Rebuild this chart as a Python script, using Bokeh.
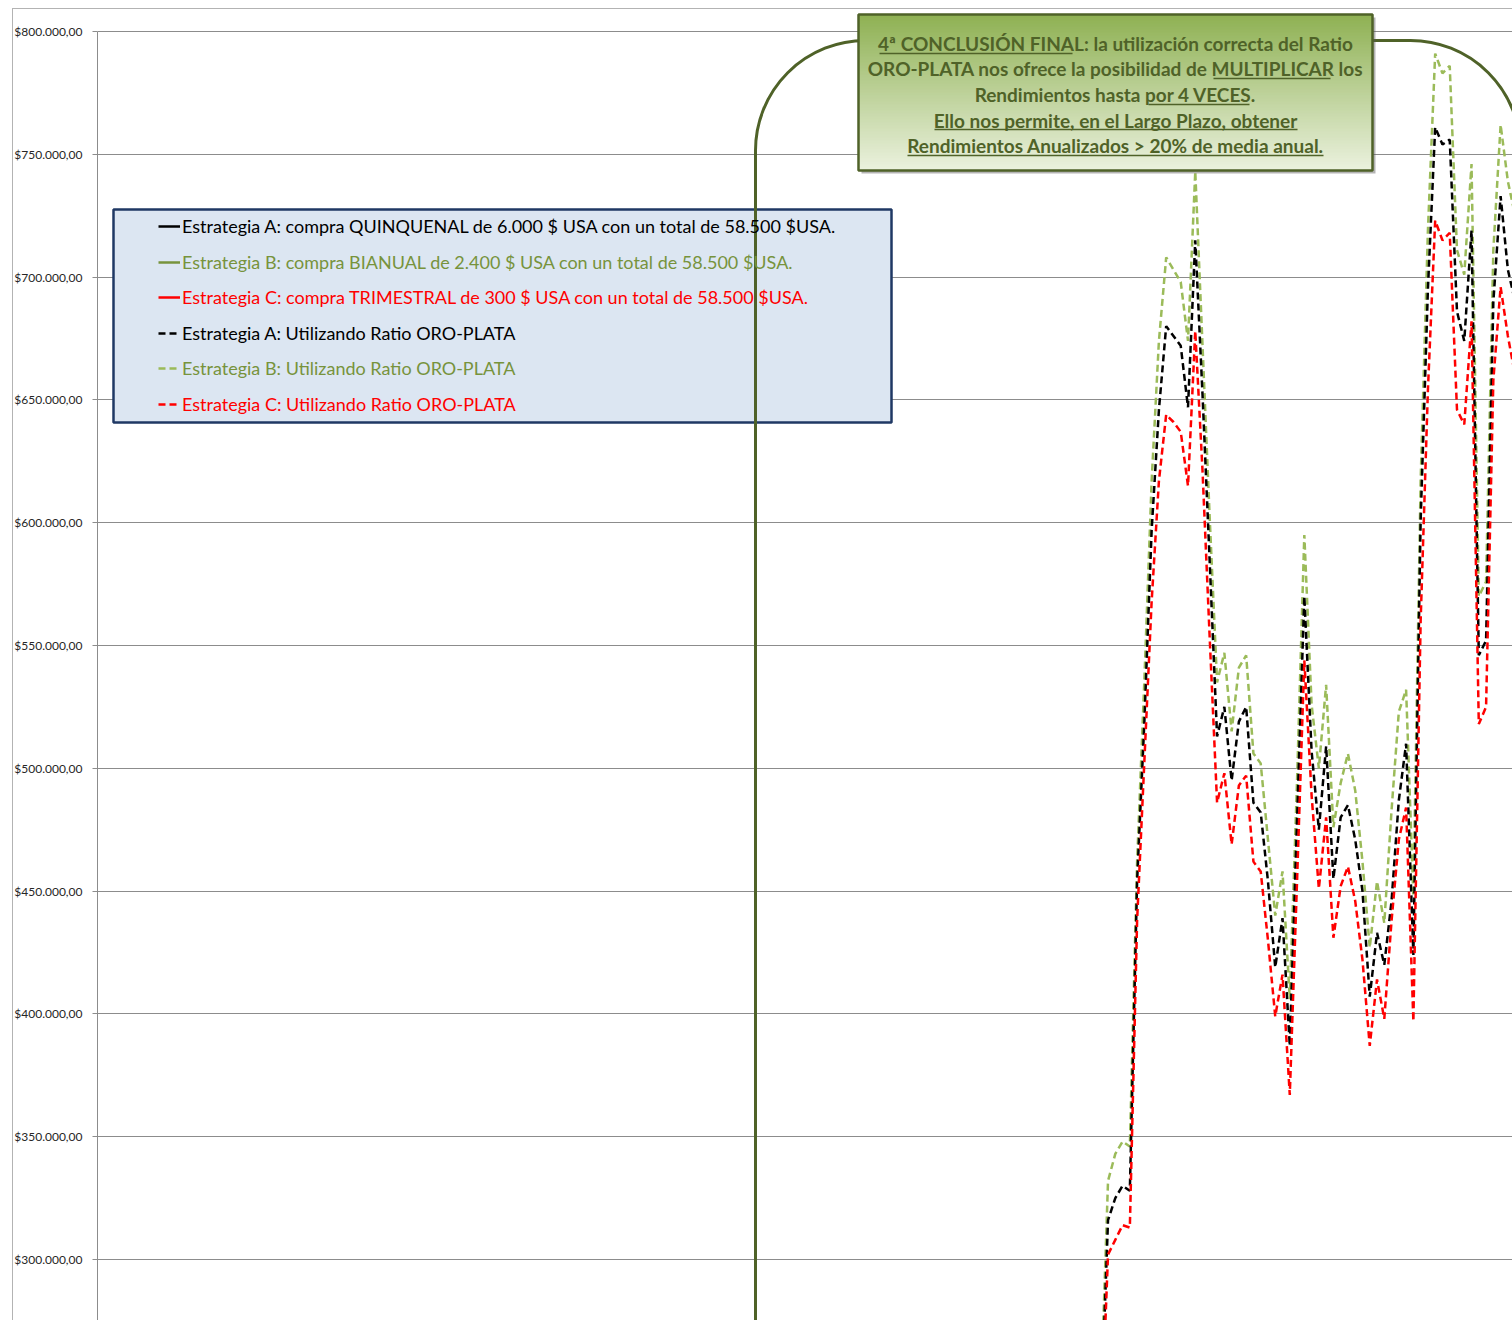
import numpy as np
from bokeh.plotting import figure
from bokeh.models import (Range1d, FixedTicker, CustomJSTickFormatter, Legend, LegendItem,
                          BoxAnnotation, Label, InlineStyleSheet)
from bokeh.embed import file_html
from bokeh.resources import INLINE

# ---------------- data (period index = quarter number on the category axis) ----------------
periods = list(range(139, 197))

estrategia_a_ratio = [234000, 316000, 325000, 330000, 328000, 454000, 519000, 597000, 646000, 680000,
                      676000, 672000, 647000, 715000, 652000, 583000, 513000, 525000, 495000, 519000,
                      525000, 486000, 482000, 454000, 419000, 439000, 387000, 479000, 570000, 507000,
                      475000, 509000, 455000, 480000, 485000, 471000, 450000, 407000, 433000, 420000,
                      446000, 487000, 510000, 424000, 601000, 695000, 761000, 754000, 756000, 686000,
                      674000, 719000, 546000, 552000, 690000, 733000, 703000, 690000]
estrategia_b_ratio = [243000, 332000, 343000, 348000, 346000, 462000, 536000, 617000, 674000, 708000,
                      703000, 698000, 674000, 743000, 672000, 601000, 535000, 547000, 515000, 541000,
                      546000, 506000, 502000, 471000, 440000, 458000, 406000, 495000, 595000, 526000,
                      500000, 534000, 476000, 494000, 506000, 491000, 462000, 427000, 454000, 437000,
                      483000, 523000, 532000, 448000, 617000, 719000, 791000, 783000, 786000, 711000,
                      701000, 746000, 570000, 576000, 711000, 762000, 739000, 725000]
estrategia_c_ratio = [226000, 302000, 308000, 314000, 313000, 438000, 503000, 568000, 617000, 644000,
                      641000, 637000, 615000, 678000, 621000, 552000, 486000, 498000, 469000, 493000,
                      497000, 462000, 458000, 430000, 399000, 416000, 367000, 454000, 544000, 489000,
                      451000, 480000, 431000, 452000, 460000, 446000, 422000, 387000, 414000, 398000,
                      438000, 471000, 484000, 397000, 560000, 654000, 723000, 715000, 718000, 646000,
                      640000, 682000, 518000, 525000, 658000, 696000, 676000, 660000]

# the plain purchase strategies lie below the visible part of the axis in this view (no visible values)
periods_plain = [np.nan]
estrategia_a = [np.nan]
estrategia_b = [np.nan]
estrategia_c = [np.nan]

y_ticks = [300000, 350000, 400000, 450000, 500000, 550000, 600000, 650000, 700000, 750000, 800000]
Y_AXIS_TOP = 800000

legend_labels = [
    "Estrategia A: compra QUINQUENAL de 6.000 $ USA con un total de 58.500 $USA.",
    "Estrategia B: compra BIANUAL de 2.400 $ USA con un total de 58.500 $USA.",
    "Estrategia C: compra TRIMESTRAL de 300 $ USA con un total de 58.500 $USA.",
    "Estrategia A: Utilizando Ratio ORO-PLATA",
    "Estrategia B: Utilizando Ratio ORO-PLATA",
    "Estrategia C: Utilizando Ratio ORO-PLATA",
]

note_lines = [
    "4ª CONCLUSIÓN FINAL: la utilización correcta del Ratio",
    "ORO-PLATA nos ofrece la posibilidad de MULTIPLICAR los",
    "Rendimientos hasta por 4 VECES.",
    "Ello nos permite, en el Largo Plazo, obtener",
    "Rendimientos Anualizados > 20% de media anual.",
]

# ---------------- layout ----------------
W, H = 1512, 1320
BL, BT = 97, 8
AXIS_TOP_PX = 31            # page y of the $800.000,00 gridline
FW, FH = W - BL, H - BT
PX_PER_PERIOD = 7.27
VAL_PER_PX = 407.17
Y_TOP = Y_AXIS_TOP + (AXIS_TOP_PX - BT) * VAL_PER_PX
Y_BOT = Y_TOP - FH * VAL_PER_PX
X_START = 1
X_END = X_START + FW / PX_PER_PERIOD

PAGE_FRAME_LEFT = BL
PAGE_FRAME_BOTTOM = H


def sx(X):
    return X - PAGE_FRAME_LEFT


def sy(Y):
    return PAGE_FRAME_BOTTOM - Y


SCREEN = dict(left_units="screen", right_units="screen", top_units="screen", bottom_units="screen")

# thin grey border of the chart area (top and left edges)
chart_area_css = InlineStyleSheet(css="""
:host { position: relative; }
:host::after {
  content: ""; position: absolute; left: 12px; top: 8px; right: 0; bottom: 0;
  border-top: 1px solid #b3b3b3; border-left: 1px solid #b3b3b3;
  pointer-events: none; z-index: 10;
}
""")

p = figure(width=W, height=H, output_backend="svg", toolbar_location=None,
           x_range=Range1d(X_START, X_END), y_range=Range1d(Y_BOT, Y_TOP),
           x_axis_location=None, min_border_left=BL, min_border_top=BT,
           min_border_right=0, min_border_bottom=0, stylesheets=[chart_area_css])
p.outline_line_color = None
p.background_fill_color = "white"
p.border_fill_color = "white"
p.xgrid.visible = False
p.ygrid.grid_line_color = "#8c8c8c"
p.ygrid.grid_line_width = 1
p.yaxis.ticker = FixedTicker(ticks=y_ticks)
p.yaxis.bounds = (Y_BOT, Y_AXIS_TOP)
p.yaxis.formatter = CustomJSTickFormatter(code="""
const s = Math.round(tick).toString().replace(/\\B(?=(\\d{3})+(?!\\d))/g, ".");
return "$" + s + ",00";
""")
p.yaxis.axis_line_color = "#8c8c8c"
p.yaxis.major_tick_line_color = "#8c8c8c"
p.yaxis.major_tick_out = 5
p.yaxis.major_tick_in = 0
p.yaxis.minor_tick_line_color = None
p.yaxis.major_label_standoff = 10
p.yaxis.major_label_text_font = "Lato"
p.yaxis.major_label_text_font_size = "12px"
p.yaxis.major_label_text_color = "#262626"

# ---------------- series ----------------
DASH = "7 4"
r_a = p.line(periods_plain, estrategia_a, line_color="#000000", line_width=2.5)
r_b = p.line(periods_plain, estrategia_b, line_color="#77933c", line_width=2.5)
r_c = p.line(periods_plain, estrategia_c, line_color="#ff0000", line_width=2.5)
r_b2 = p.line(periods, estrategia_b_ratio, line_color="#9bbb59", line_width=2.5, line_dash=DASH)
r_a2 = p.line(periods, estrategia_a_ratio, line_color="#000000", line_width=2.5, line_dash=DASH)
r_c2 = p.line(periods, estrategia_c_ratio, line_color="#ff0000", line_width=2.5, line_dash=DASH)

# ---------------- legend box ----------------
p.add_layout(BoxAnnotation(left=sx(113), right=sx(891), top=sy(209), bottom=sy(422), **SCREEN,
                           fill_color="#dce6f2", fill_alpha=1, line_color="#1f3864", line_alpha=1,
                           line_width=2.5))

legend_renderers = [r_a, r_b, r_c, r_a2, r_b2, r_c2]
legend_colors = ["#000000", "#77933c", "#ff0000", "#000000", "#77933c", "#ff0000"]
legend_rows_y = [226, 262, 297, 333, 368, 404]
ITEM_H = 22
for lab, rend, col, yc in zip(legend_labels, legend_renderers, legend_colors, legend_rows_y):
    leg = Legend(items=[LegendItem(label=lab, renderers=[rend])],
                 location=(sx(158), sy(yc) - ITEM_H / 2),
                 padding=0, margin=0, spacing=0, glyph_width=22, glyph_height=ITEM_H,
                 label_height=ITEM_H, label_standoff=2,
                 label_text_font="Lato", label_text_font_size="18px", label_text_color=col,
                 background_fill_alpha=0, border_line_alpha=0)
    p.add_layout(leg)

# ---------------- callout connector (rounded outline) ----------------
p.add_layout(BoxAnnotation(left=sx(755), right=sx(1520), top=sy(40), bottom=sy(1600), **SCREEN,
                           fill_alpha=0, line_color="#4f6228", line_alpha=1, line_width=3,
                           border_radius=110))

# ---------------- callout box ----------------
BX0, BX1, BY0, BY1 = 858, 1372, 14, 170
p.add_layout(BoxAnnotation(left=sx(BX0 + 3), right=sx(BX1 + 3), top=sy(BY0 + 3), bottom=sy(BY1 + 3), **SCREEN,
                           fill_color="#595959", fill_alpha=0.45, line_alpha=0))
top_c = np.array([143, 177, 84])
bot_c = np.array([234, 241, 221])
n_strips = 52
step = (BY1 - BY0) / n_strips
for i in range(n_strips):
    t = i / (n_strips - 1)
    c = (top_c + (bot_c - top_c) * t).round().astype(int)
    p.add_layout(BoxAnnotation(left=sx(BX0), right=sx(BX1), top=sy(BY0 + i * step),
                               bottom=sy(BY0 + (i + 1) * step + 0.6), **SCREEN,
                               fill_color="#%02x%02x%02x" % tuple(c), fill_alpha=1, line_alpha=0))
p.add_layout(BoxAnnotation(left=sx(BX0), right=sx(BX1), top=sy(BY0), bottom=sy(BY1), **SCREEN,
                           fill_alpha=0, line_color="#4f6228", line_alpha=1, line_width=2.5))

note_y = [43, 68, 94, 120, 145]
for txt, yc in zip(note_lines, note_y):
    p.add_layout(Label(x=sx(1115), y=sy(yc), x_units="screen", y_units="screen", text=txt,
                       text_align="center", text_baseline="middle", text_font="Lato",
                       text_font_style="bold", text_font_size="19px", text_color="#4f6228"))

underlines = [(879, 1072, 53), (1213, 1330, 78), (1148, 1249, 104), (934, 1297, 129), (907, 1323, 155)]
for x0, x1, yu in underlines:
    p.add_layout(BoxAnnotation(left=sx(x0), right=sx(x1), top=sy(yu - 0.8), bottom=sy(yu + 0.8), **SCREEN,
                               fill_color="#4f6228", fill_alpha=1, line_alpha=0))

open("out.html", "w").write(file_html(p, INLINE))
